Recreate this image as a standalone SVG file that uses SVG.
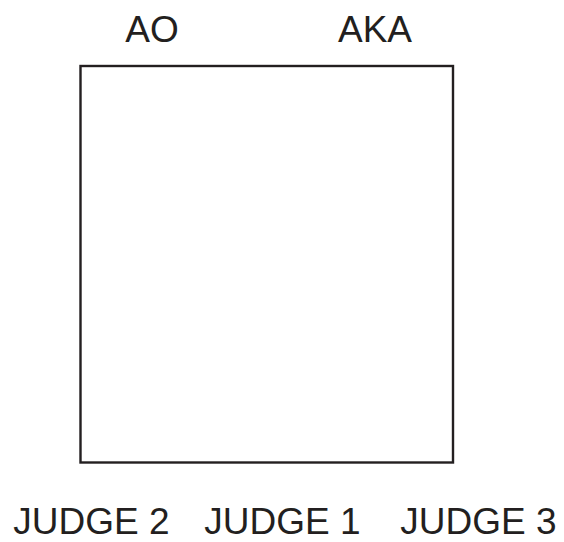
<svg xmlns="http://www.w3.org/2000/svg" width="564" height="542" viewBox="0 0 564 542">
<style>
.t{font-family:"Liberation Sans",Arial,sans-serif;font-size:37px;fill:#231f20;text-anchor:middle}
.b{fill:none;stroke:#231f20;stroke-width:2.4}
</style>
<rect width="564" height="542" fill="#fff"/>
<g id="mat"><rect class="b" x="80.5" y="66" width="372.5" height="396.5"/></g>
<g id="ao"><text class="t" x="152" y="42">AO</text></g>
<g id="aka"><text class="t" x="375" y="42">AKA</text></g>
<g id="judge2"><text class="t" x="91.5" y="534">JUDGE 2</text></g>
<g id="judge1"><text class="t" x="282.5" y="534">JUDGE 1</text></g>
<g id="judge3"><text class="t" x="478.5" y="534">JUDGE 3</text></g>
<g id="connectors"/>
</svg>
